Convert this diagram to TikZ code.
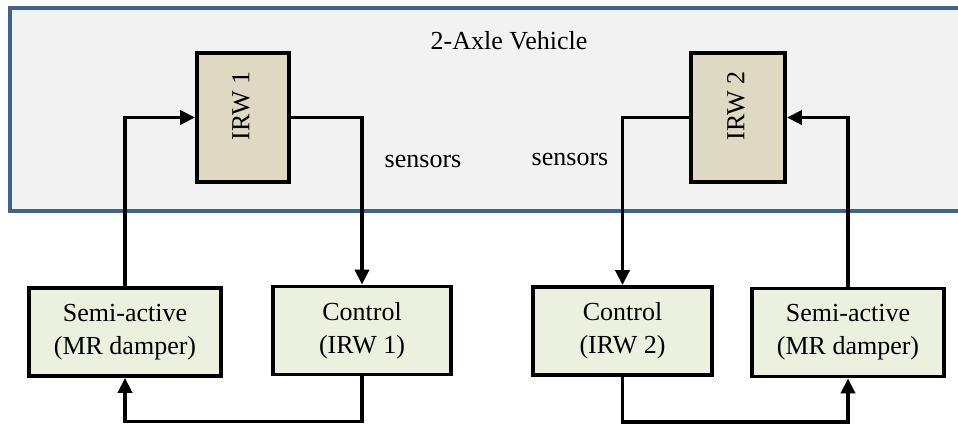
\documentclass[tikz,border=0pt]{standalone}
\usepackage{fontspec}
\setmainfont{Liberation Serif}
\usetikzlibrary{arrows.meta}
\definecolor{vehfill}{HTML}{F2F2F2}
\definecolor{vehline}{HTML}{41628C}
\definecolor{irwfill}{HTML}{DDD9C3}
\definecolor{boxfill}{HTML}{EBF1DE}
\begin{document}
\begin{tikzpicture}[x=1pt,y=-1pt,
  every node/.style={font=\fontsize{26}{33}\selectfont},
  irwbox/.style={draw=black,line width=3.8pt,fill=irwfill,minimum width=92pt,minimum height=129pt,inner sep=0pt},
  unitbox/.style={draw=black,line width=3.8pt,fill=boxfill,minimum height=88pt,inner sep=0pt,align=center},
  conn/.style={line width=3.8pt,line join=miter},
  arr/.style={conn,-{Triangle[length=15pt,width=14pt]}}]
\useasboundingbox (0,0) rectangle (958,423);
\draw[vehline,fill=vehfill,line width=4pt] (10,8) rectangle (975,211);
\node (title) at (509,41) {2-Axle Vehicle};
\node[irwbox] (irw1) at (243,117.5) {};
\node[irwbox,minimum width=94pt] (irw2) at (738,117.5) {};
\node[rotate=90] (irw1t) at (241,106) {IRW 1};
\node[rotate=90] (irw2t) at (736,106) {IRW 2};
\node (sens1) at (423,161) {sensors};
\node (sens2) at (570,159) {sensors};
\node[unitbox,minimum width=192pt] (semi1) at (125,332) {Semi-active\\(MR damper)};
\node[unitbox,minimum width=178pt] (ctrl1) at (362,330.5) {Control\\(IRW 1)};
\node[unitbox,minimum width=179pt] (ctrl2) at (622.5,331) {Control\\(IRW 2)};
\node[unitbox,minimum width=192pt] (semi2) at (848,332.5) {Semi-active\\(MR damper)};
\draw[arr] (semi1.north) |- (irw1.west);
\draw[arr] (irw1.east) -| (ctrl1.north);
\draw[arr] (ctrl1.south) -- ++(0,45) -| (semi1.south);
\draw[arr] (irw2.west) -| (ctrl2.north);
\draw[arr] (semi2.north) |- (irw2.east);
\draw[arr] (ctrl2.south) -- ++(0,45) -| (semi2.south);
\end{tikzpicture}
\end{document}
